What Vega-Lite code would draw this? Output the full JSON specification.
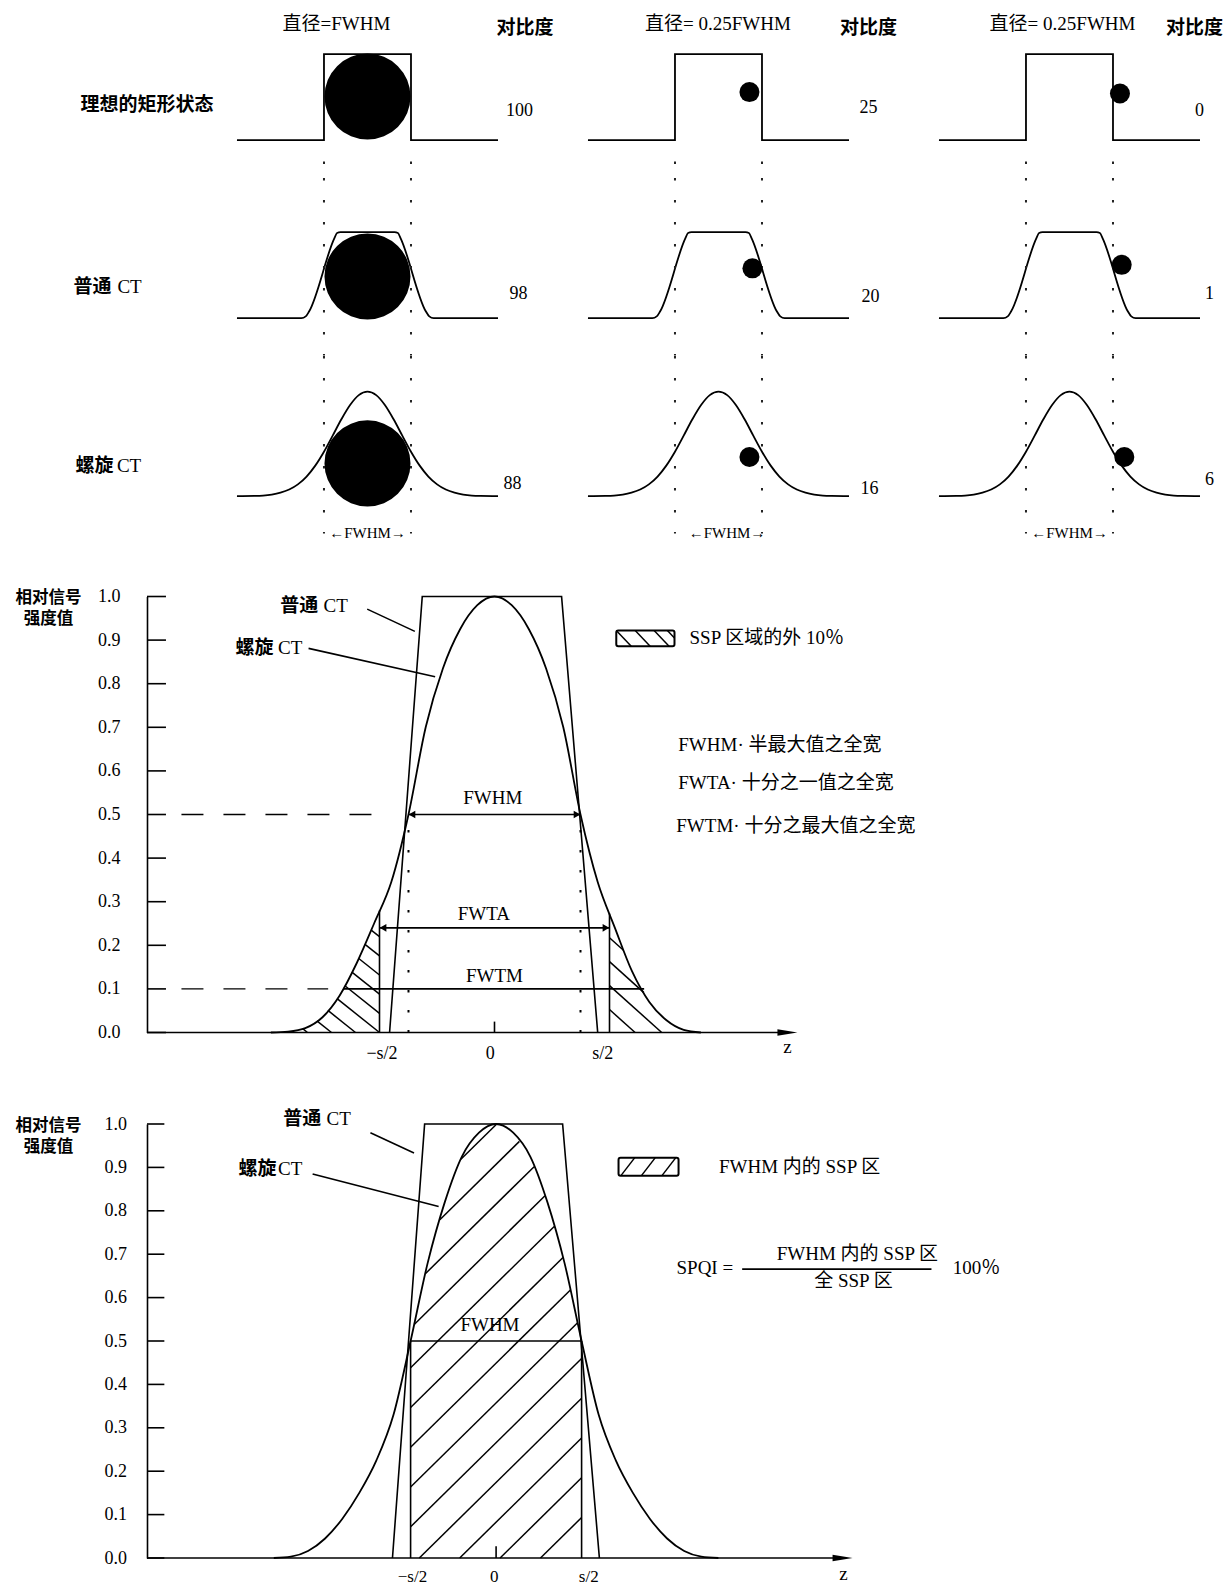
{
"$schema": "https://vega.github.io/schema/vega-lite/v6.json",
"background": "white",
"padding": {"left": 15, "top": 0, "right": 2, "bottom": 0},
"spacing": 46.5,
"config": {"view": {"stroke": null}, "axis": {"grid": false}},
"datasets": {
"top": [
{"c":1,"r":1,"k":"p","o":1,"z":-1.5,"v":0},{"c":1,"r":1,"k":"p","o":2,"z":-0.5,"v":0},{"c":1,"r":1,"k":"p","o":3,"z":-0.5,"v":1},{"c":1,"r":1,"k":"p","o":4,"z":0.5,"v":1},{"c":1,"r":1,"k":"p","o":5,"z":0.5,"v":0},{"c":1,"r":1,"k":"p","o":6,"z":1.5,"v":0},
{"c":2,"r":1,"k":"p","o":1,"z":-1.5,"v":0},{"c":2,"r":1,"k":"p","o":2,"z":-0.5,"v":0},{"c":2,"r":1,"k":"p","o":3,"z":-0.5,"v":1},{"c":2,"r":1,"k":"p","o":4,"z":0.5,"v":1},{"c":2,"r":1,"k":"p","o":5,"z":0.5,"v":0},{"c":2,"r":1,"k":"p","o":6,"z":1.5,"v":0},
{"c":3,"r":1,"k":"p","o":1,"z":-1.5,"v":0},{"c":3,"r":1,"k":"p","o":2,"z":-0.5,"v":0},{"c":3,"r":1,"k":"p","o":3,"z":-0.5,"v":1},{"c":3,"r":1,"k":"p","o":4,"z":0.5,"v":1},{"c":3,"r":1,"k":"p","o":5,"z":0.5,"v":0},{"c":3,"r":1,"k":"p","o":6,"z":1.5,"v":0},
{"c":1,"r":2,"k":"p","z":-1.5,"v":0},{"c":1,"r":2,"k":"p","z":-0.76,"v":0},{"c":1,"r":2,"k":"p","z":-0.71,"v":0.02},{"c":1,"r":2,"k":"p","z":-0.67,"v":0.08},{"c":1,"r":2,"k":"p","z":-0.38,"v":0.93},{"c":1,"r":2,"k":"p","z":-0.35,"v":0.99},{"c":1,"r":2,"k":"p","z":-0.31,"v":1},{"c":1,"r":2,"k":"p","z":0.31,"v":1},{"c":1,"r":2,"k":"p","z":0.35,"v":0.99},{"c":1,"r":2,"k":"p","z":0.38,"v":0.93},{"c":1,"r":2,"k":"p","z":0.67,"v":0.08},{"c":1,"r":2,"k":"p","z":0.71,"v":0.02},{"c":1,"r":2,"k":"p","z":0.76,"v":0},{"c":1,"r":2,"k":"p","z":1.5,"v":0},
{"c":2,"r":2,"k":"p","z":-1.5,"v":0},{"c":2,"r":2,"k":"p","z":-0.76,"v":0},{"c":2,"r":2,"k":"p","z":-0.71,"v":0.02},{"c":2,"r":2,"k":"p","z":-0.67,"v":0.08},{"c":2,"r":2,"k":"p","z":-0.38,"v":0.93},{"c":2,"r":2,"k":"p","z":-0.35,"v":0.99},{"c":2,"r":2,"k":"p","z":-0.31,"v":1},{"c":2,"r":2,"k":"p","z":0.31,"v":1},{"c":2,"r":2,"k":"p","z":0.35,"v":0.99},{"c":2,"r":2,"k":"p","z":0.38,"v":0.93},{"c":2,"r":2,"k":"p","z":0.67,"v":0.08},{"c":2,"r":2,"k":"p","z":0.71,"v":0.02},{"c":2,"r":2,"k":"p","z":0.76,"v":0},{"c":2,"r":2,"k":"p","z":1.5,"v":0},
{"c":3,"r":2,"k":"p","z":-1.5,"v":0},{"c":3,"r":2,"k":"p","z":-0.76,"v":0},{"c":3,"r":2,"k":"p","z":-0.71,"v":0.02},{"c":3,"r":2,"k":"p","z":-0.67,"v":0.08},{"c":3,"r":2,"k":"p","z":-0.38,"v":0.93},{"c":3,"r":2,"k":"p","z":-0.35,"v":0.99},{"c":3,"r":2,"k":"p","z":-0.31,"v":1},{"c":3,"r":2,"k":"p","z":0.31,"v":1},{"c":3,"r":2,"k":"p","z":0.35,"v":0.99},{"c":3,"r":2,"k":"p","z":0.38,"v":0.93},{"c":3,"r":2,"k":"p","z":0.67,"v":0.08},{"c":3,"r":2,"k":"p","z":0.71,"v":0.02},{"c":3,"r":2,"k":"p","z":0.76,"v":0},{"c":3,"r":2,"k":"p","z":1.5,"v":0},
{"c":1,"r":3,"k":"p","z":-1.5,"v":0},{"c":1,"r":3,"k":"p","z":-1.3,"v":0.002},{"c":1,"r":3,"k":"p","z":-1.2,"v":0.006},{"c":1,"r":3,"k":"p","z":-1.1,"v":0.018},{"c":1,"r":3,"k":"p","z":-1,"v":0.04},{"c":1,"r":3,"k":"p","z":-0.9,"v":0.076},{"c":1,"r":3,"k":"p","z":-0.8,"v":0.136},{"c":1,"r":3,"k":"p","z":-0.7,"v":0.227},{"c":1,"r":3,"k":"p","z":-0.6,"v":0.354},{"c":1,"r":3,"k":"p","z":-0.5,"v":0.516},{"c":1,"r":3,"k":"p","z":-0.4,"v":0.703},{"c":1,"r":3,"k":"p","z":-0.3,"v":0.893},{"c":1,"r":3,"k":"p","z":-0.2,"v":1.059},{"c":1,"r":3,"k":"p","z":-0.1,"v":1.174},{"c":1,"r":3,"k":"p","z":0,"v":1.215},{"c":1,"r":3,"k":"p","z":0.1,"v":1.174},{"c":1,"r":3,"k":"p","z":0.2,"v":1.059},{"c":1,"r":3,"k":"p","z":0.3,"v":0.893},{"c":1,"r":3,"k":"p","z":0.4,"v":0.703},{"c":1,"r":3,"k":"p","z":0.5,"v":0.516},{"c":1,"r":3,"k":"p","z":0.6,"v":0.354},{"c":1,"r":3,"k":"p","z":0.7,"v":0.227},{"c":1,"r":3,"k":"p","z":0.8,"v":0.136},{"c":1,"r":3,"k":"p","z":0.9,"v":0.076},{"c":1,"r":3,"k":"p","z":1,"v":0.04},{"c":1,"r":3,"k":"p","z":1.1,"v":0.018},{"c":1,"r":3,"k":"p","z":1.2,"v":0.006},{"c":1,"r":3,"k":"p","z":1.3,"v":0.002},{"c":1,"r":3,"k":"p","z":1.5,"v":0},
{"c":2,"r":3,"k":"p","z":-1.5,"v":0},{"c":2,"r":3,"k":"p","z":-1.3,"v":0.002},{"c":2,"r":3,"k":"p","z":-1.2,"v":0.006},{"c":2,"r":3,"k":"p","z":-1.1,"v":0.018},{"c":2,"r":3,"k":"p","z":-1,"v":0.04},{"c":2,"r":3,"k":"p","z":-0.9,"v":0.076},{"c":2,"r":3,"k":"p","z":-0.8,"v":0.136},{"c":2,"r":3,"k":"p","z":-0.7,"v":0.227},{"c":2,"r":3,"k":"p","z":-0.6,"v":0.354},{"c":2,"r":3,"k":"p","z":-0.5,"v":0.516},{"c":2,"r":3,"k":"p","z":-0.4,"v":0.703},{"c":2,"r":3,"k":"p","z":-0.3,"v":0.893},{"c":2,"r":3,"k":"p","z":-0.2,"v":1.059},{"c":2,"r":3,"k":"p","z":-0.1,"v":1.174},{"c":2,"r":3,"k":"p","z":0,"v":1.215},{"c":2,"r":3,"k":"p","z":0.1,"v":1.174},{"c":2,"r":3,"k":"p","z":0.2,"v":1.059},{"c":2,"r":3,"k":"p","z":0.3,"v":0.893},{"c":2,"r":3,"k":"p","z":0.4,"v":0.703},{"c":2,"r":3,"k":"p","z":0.5,"v":0.516},{"c":2,"r":3,"k":"p","z":0.6,"v":0.354},{"c":2,"r":3,"k":"p","z":0.7,"v":0.227},{"c":2,"r":3,"k":"p","z":0.8,"v":0.136},{"c":2,"r":3,"k":"p","z":0.9,"v":0.076},{"c":2,"r":3,"k":"p","z":1,"v":0.04},{"c":2,"r":3,"k":"p","z":1.1,"v":0.018},{"c":2,"r":3,"k":"p","z":1.2,"v":0.006},{"c":2,"r":3,"k":"p","z":1.3,"v":0.002},{"c":2,"r":3,"k":"p","z":1.5,"v":0},
{"c":3,"r":3,"k":"p","z":-1.5,"v":0},{"c":3,"r":3,"k":"p","z":-1.3,"v":0.002},{"c":3,"r":3,"k":"p","z":-1.2,"v":0.006},{"c":3,"r":3,"k":"p","z":-1.1,"v":0.018},{"c":3,"r":3,"k":"p","z":-1,"v":0.04},{"c":3,"r":3,"k":"p","z":-0.9,"v":0.076},{"c":3,"r":3,"k":"p","z":-0.8,"v":0.136},{"c":3,"r":3,"k":"p","z":-0.7,"v":0.227},{"c":3,"r":3,"k":"p","z":-0.6,"v":0.354},{"c":3,"r":3,"k":"p","z":-0.5,"v":0.516},{"c":3,"r":3,"k":"p","z":-0.4,"v":0.703},{"c":3,"r":3,"k":"p","z":-0.3,"v":0.893},{"c":3,"r":3,"k":"p","z":-0.2,"v":1.059},{"c":3,"r":3,"k":"p","z":-0.1,"v":1.174},{"c":3,"r":3,"k":"p","z":0,"v":1.215},{"c":3,"r":3,"k":"p","z":0.1,"v":1.174},{"c":3,"r":3,"k":"p","z":0.2,"v":1.059},{"c":3,"r":3,"k":"p","z":0.3,"v":0.893},{"c":3,"r":3,"k":"p","z":0.4,"v":0.703},{"c":3,"r":3,"k":"p","z":0.5,"v":0.516},{"c":3,"r":3,"k":"p","z":0.6,"v":0.354},{"c":3,"r":3,"k":"p","z":0.7,"v":0.227},{"c":3,"r":3,"k":"p","z":0.8,"v":0.136},{"c":3,"r":3,"k":"p","z":0.9,"v":0.076},{"c":3,"r":3,"k":"p","z":1,"v":0.04},{"c":3,"r":3,"k":"p","z":1.1,"v":0.018},{"c":3,"r":3,"k":"p","z":1.2,"v":0.006},{"c":3,"r":3,"k":"p","z":1.3,"v":0.002},{"c":3,"r":3,"k":"p","z":1.5,"v":0},
{"c":1,"r":1,"k":"d","z":-0.5,"v":-0.248,"v2":-0.4357},{"c":1,"r":1,"k":"d","z":0.5,"v":-0.248,"v2":-0.4357},
{"c":1,"r":2,"k":"d","z":-0.5,"v":1.63,"v2":-0.4357},{"c":1,"r":2,"k":"d","z":0.5,"v":1.63,"v2":-0.4357},
{"c":1,"r":3,"k":"d","z":-0.5,"v":1.63,"v2":-0.4357},{"c":1,"r":3,"k":"d","z":0.5,"v":1.63,"v2":-0.4357},
{"c":2,"r":1,"k":"d","z":-0.5,"v":-0.248,"v2":-0.4357},{"c":2,"r":1,"k":"d","z":0.5,"v":-0.248,"v2":-0.4357},
{"c":2,"r":2,"k":"d","z":-0.5,"v":1.63,"v2":-0.4357},{"c":2,"r":2,"k":"d","z":0.5,"v":1.63,"v2":-0.4357},
{"c":2,"r":3,"k":"d","z":-0.5,"v":1.63,"v2":-0.4357},{"c":2,"r":3,"k":"d","z":0.5,"v":1.63,"v2":-0.4357},
{"c":3,"r":1,"k":"d","z":-0.5,"v":-0.248,"v2":-0.4357},{"c":3,"r":1,"k":"d","z":0.5,"v":-0.248,"v2":-0.4357},
{"c":3,"r":2,"k":"d","z":-0.5,"v":1.63,"v2":-0.4357},{"c":3,"r":2,"k":"d","z":0.5,"v":1.63,"v2":-0.4357},
{"c":3,"r":3,"k":"d","z":-0.5,"v":1.63,"v2":-0.4357},{"c":3,"r":3,"k":"d","z":0.5,"v":1.63,"v2":-0.4357},
{"c":1,"r":1,"k":"b","z":0,"v":0.507},{"c":1,"r":2,"k":"b","z":0,"v":0.484},{"c":1,"r":3,"k":"b","z":0,"v":0.38},
{"c":2,"r":1,"k":"s","z":0.356,"v":0.559},{"c":2,"r":2,"k":"s","z":0.39,"v":0.579},{"c":2,"r":3,"k":"s","z":0.356,"v":0.455},
{"c":3,"r":1,"k":"s","z":0.58,"v":0.543},{"c":3,"r":2,"k":"s","z":0.6,"v":0.62},{"c":3,"r":3,"k":"s","z":0.63,"v":0.455},
{"c":1,"r":1,"k":"hd","z":-0.356,"v":1.351,"t":"直径=FWHM"},
{"c":2,"r":1,"k":"hd","z":-0.006,"v":1.351,"t":"直径= 0.25FWHM"},
{"c":3,"r":1,"k":"hd","z":-0.08,"v":1.351,"t":"直径= 0.25FWHM"},
{"c":1,"r":1,"k":"cb","z":1.81,"v":1.31,"t":"对比度"},
{"c":2,"r":1,"k":"cb","z":1.724,"v":1.31,"t":"对比度"},
{"c":3,"r":1,"k":"cb","z":1.437,"v":1.31,"t":"对比度"},
{"c":1,"r":1,"k":"rl","z":-3.299,"v":0.412,"t":"理想的矩形状态"},
{"c":1,"r":2,"k":"rl","z":-3.379,"v":0.367,"t":"普通"},
{"c":1,"r":3,"k":"rl","z":-3.356,"v":0.348,"t":"螺旋"},
{"c":1,"r":2,"k":"ct","z":-2.874,"v":0.367,"t":"CT"},
{"c":1,"r":3,"k":"ct","z":-2.88,"v":0.348,"t":"CT"},
{"c":1,"r":1,"k":"n","z":1.747,"v":0.34,"t":"100"},
{"c":1,"r":2,"k":"n","z":1.736,"v":0.28,"t":"98"},
{"c":1,"r":3,"k":"n","z":1.667,"v":0.136,"t":"88"},
{"c":2,"r":1,"k":"n","z":1.724,"v":0.379,"t":"25"},
{"c":2,"r":2,"k":"n","z":1.747,"v":0.248,"t":"20"},
{"c":2,"r":3,"k":"n","z":1.736,"v":0.087,"t":"16"},
{"c":3,"r":1,"k":"n","z":1.494,"v":0.34,"t":"0"},
{"c":3,"r":2,"k":"n","z":1.609,"v":0.28,"t":"1"},
{"c":3,"r":3,"k":"n","z":1.609,"v":0.187,"t":"6"},
{"c":1,"r":3,"k":"fw","z":0,"v":-0.424,"t":"←FWHM→"},
{"c":2,"r":3,"k":"fw","z":0.098,"v":-0.424,"t":"←FWHM→"},
{"c":3,"r":3,"k":"fw","z":0,"v":-0.424,"t":"←FWHM→"}
],
"mG": [{"z":-1.3,"v":0},{"z":-1.2,"v":0.002},{"z":-1.1,"v":0.01},{"z":-1.0,"v":0.035},{"z":-0.9,"v":0.085},{"z":-0.8,"v":0.16},{"z":-0.7,"v":0.25},{"z":-0.6,"v":0.345},{"z":-0.5,"v":0.5},{"z":-0.4,"v":0.7},{"z":-0.3,"v":0.835},{"z":-0.2,"v":0.925},{"z":-0.1,"v":0.98},{"z":0,"v":1},{"z":0.1,"v":0.98},{"z":0.2,"v":0.925},{"z":0.3,"v":0.835},{"z":0.4,"v":0.7},{"z":0.5,"v":0.5},{"z":0.6,"v":0.345},{"z":0.7,"v":0.24},{"z":0.8,"v":0.14},{"z":0.9,"v":0.07},{"z":1.0,"v":0.028},{"z":1.1,"v":0.006},{"z":1.2,"v":0}],
"mT": [{"z":-0.61,"v":0},{"z":-0.42,"v":1},{"z":0.39,"v":1},{"z":0.6,"v":0}],
"mS": [
{"z1":-2.0203,"v1":0,"z2":1.7,"v2":0},
{"z1":-0.6686,"v1":0,"z2":-0.6686,"v2":0.2798},
{"z1":0.6686,"v1":0,"z2":0.6686,"v2":0.273},
{"z1":-0.5,"v1":0.5,"z2":0.5,"v2":0.5},
{"z1":-0.6686,"v1":0.24,"z2":0.6686,"v2":0.24},
{"z1":-0.88,"v1":0.1,"z2":0.87,"v2":0.1},
{"z1":-0.74,"v1":0.971,"z2":-0.463,"v2":0.92},
{"z1":-1.081,"v1":0.881,"z2":-0.345,"v2":0.816},
{"z1":0,"v1":0,"z2":0,"v2":0.025},
{"z1":-2.0203,"v1":0,"z2":-1.91,"v2":0},{"z1":-2.0203,"v1":0.1,"z2":-1.91,"v2":0.1},{"z1":-2.0203,"v1":0.2,"z2":-1.91,"v2":0.2},{"z1":-2.0203,"v1":0.3,"z2":-1.91,"v2":0.3},{"z1":-2.0203,"v1":0.4,"z2":-1.91,"v2":0.4},{"z1":-2.0203,"v1":0.5,"z2":-1.91,"v2":0.5},{"z1":-2.0203,"v1":0.6,"z2":-1.91,"v2":0.6},{"z1":-2.0203,"v1":0.7,"z2":-1.91,"v2":0.7},{"z1":-2.0203,"v1":0.8,"z2":-1.91,"v2":0.8},{"z1":-2.0203,"v1":0.9,"z2":-1.91,"v2":0.9},{"z1":-2.0203,"v1":1,"z2":-1.91,"v2":1}
],
"mH": [
{"z1":-0.6686,"v1":0.2197,"z2":-0.7169,"v2":0.2348},
{"z1":-0.6686,"v1":0.1757,"z2":-0.7529,"v2":0.2023},
{"z1":-0.6686,"v1":0.1318,"z2":-0.789,"v2":0.1698},
{"z1":-0.6686,"v1":0.0879,"z2":-0.8291,"v2":0.1384},
{"z1":-0.6686,"v1":0.0439,"z2":-0.8698,"v2":0.1073},
{"z1":-0.6686,"v1":0,"z2":-0.9151,"v2":0.0776},
{"z1":-0.8081,"v1":0,"z2":-0.9686,"v2":0.0506},
{"z1":-0.9477,"v1":0,"z2":-1.0326,"v2":0.0268},
{"z1":-1.0872,"v1":0,"z2":-1.1151,"v2":0.0088},
{"z1":0.6686,"v1":0.2174,"z2":0.7512,"v2":0.1881},
{"z1":0.6686,"v1":0.1625,"z2":0.8686,"v2":0.0915},
{"z1":0.6686,"v1":0.1076,"z2":0.9721,"v2":0},
{"z1":0.6686,"v1":0.0526,"z2":0.8174,"v2":0},
{"z1":0.708,"v1":0.922,"z2":0.795,"v2":0.886},
{"z1":0.818,"v1":0.922,"z2":0.905,"v2":0.886},
{"z1":0.928,"v1":0.922,"z2":1.015,"v2":0.886},
{"z1":1.005,"v1":0.922,"z2":1.0465,"v2":0.905}
],
"mDa": [{"z1":-1.82,"v1":0.5,"z2":-0.71,"v2":0.5},{"z1":-1.82,"v1":0.1,"z2":-0.967,"v2":0.1}],
"mDo": [{"z1":-0.5,"v1":0,"z2":-0.5,"v2":0.5},{"z1":0.5,"v1":0,"z2":0.5,"v2":0.5}],
"mA": [{"z":-0.48,"v":0.5,"d":"L"},{"z":0.48,"v":0.5,"d":"R"},{"z":-0.648,"v":0.24,"d":"L"},{"z":0.648,"v":0.24,"d":"R"}],
"mZ": [{"z":1.703,"v":0}],
"mR": [{"z1":0.708,"z2":1.0465,"v1":0.886,"v2":0.922}],
"mTx": [
{"k":"cb","t":"普通","z":-1.246,"v":0.978},
{"k":"cb","t":"螺旋","z":-1.506,"v":0.883},
{"k":"lab","t":"CT","z":-0.994,"v":0.978},
{"k":"lab","t":"CT","z":-1.258,"v":0.883},
{"k":"lab","t":"SSP 区域的外 10％","z":1.1337,"v":0.904},
{"k":"lab","t":"FWHM· 半最大值之全宽","z":1.0686,"v":0.66},
{"k":"lab","t":"FWTA· 十分之一值之全宽","z":1.0686,"v":0.572},
{"k":"lab","t":"FWTM· 十分之最大值之全宽","z":1.057,"v":0.474},
{"k":"c","t":"FWHM","z":-0.01,"v":0.537},
{"k":"c","t":"FWTA","z":-0.062,"v":0.272},
{"k":"c","t":"FWTM","z":0,"v":0.13},
{"k":"c","t":"z","z":1.703,"v":-0.033}
],
"bG": [{"z":-1.3,"v":0},{"z":-1.2,"v":0.003},{"z":-1.1,"v":0.016},{"z":-1.0,"v":0.045},{"z":-0.9,"v":0.09},{"z":-0.8,"v":0.15},{"z":-0.7,"v":0.225},{"z":-0.6,"v":0.33},{"z":-0.5,"v":0.5},{"z":-0.4,"v":0.68},{"z":-0.3,"v":0.82},{"z":-0.2,"v":0.925},{"z":-0.1,"v":0.98},{"z":0,"v":1},{"z":0.1,"v":0.98},{"z":0.2,"v":0.925},{"z":0.3,"v":0.82},{"z":0.4,"v":0.68},{"z":0.5,"v":0.5},{"z":0.6,"v":0.33},{"z":0.7,"v":0.225},{"z":0.8,"v":0.15},{"z":0.9,"v":0.09},{"z":1.0,"v":0.045},{"z":1.1,"v":0.016},{"z":1.2,"v":0.003},{"z":1.3,"v":0}],
"bT": [{"z":-0.606,"v":0},{"z":-0.418,"v":1},{"z":0.389,"v":1},{"z":0.604,"v":0}],
"bS": [
{"z1":-2.0415,"v1":0,"z2":2.03,"v2":0},
{"z1":-0.5,"v1":0,"z2":-0.5,"v2":0.5},
{"z1":0.5,"v1":0,"z2":0.5,"v2":0.5},
{"z1":-0.5,"v1":0.5,"z2":0.5,"v2":0.5},
{"z1":-0.735,"v1":0.98,"z2":-0.48,"v2":0.933},
{"z1":-1.073,"v1":0.885,"z2":-0.336,"v2":0.81},
{"z1":0,"v1":0,"z2":0,"v2":0.027},
{"z1":1.439,"v1":0.6655,"z2":2.546,"v2":0.6655},
{"z1":-2.0415,"v1":0,"z2":-1.94,"v2":0},{"z1":-2.0415,"v1":0.1,"z2":-1.94,"v2":0.1},{"z1":-2.0415,"v1":0.2,"z2":-1.94,"v2":0.2},{"z1":-2.0415,"v1":0.3,"z2":-1.94,"v2":0.3},{"z1":-2.0415,"v1":0.4,"z2":-1.94,"v2":0.4},{"z1":-2.0415,"v1":0.5,"z2":-1.94,"v2":0.5},{"z1":-2.0415,"v1":0.6,"z2":-1.94,"v2":0.6},{"z1":-2.0415,"v1":0.7,"z2":-1.94,"v2":0.7},{"z1":-2.0415,"v1":0.8,"z2":-1.94,"v2":0.8},{"z1":-2.0415,"v1":0.9,"z2":-1.94,"v2":0.9},{"z1":-2.0415,"v1":1,"z2":-1.94,"v2":1}
],
"bH": [
{"z1":-0.2058,"v1":0.9188,"z2":0.0023,"v2":0.9995},
{"z1":-0.3289,"v1":0.7795,"z2":0.1363,"v2":0.9599},
{"z1":-0.414,"v1":0.6549,"z2":0.2222,"v2":0.9016},
{"z1":-0.4789,"v1":0.5381,"z2":0.286,"v2":0.8347},
{"z1":-0.5,"v1":0.4383,"z2":0.3398,"v2":0.7639},
{"z1":-0.5,"v1":0.3467,"z2":0.3912,"v2":0.6923},
{"z1":-0.5,"v1":0.2551,"z2":0.4345,"v2":0.6175},
{"z1":-0.5,"v1":0.1635,"z2":0.4766,"v2":0.5422},
{"z1":-0.5,"v1":0.0719,"z2":0.5,"v2":0.4596},
{"z1":-0.4491,"v1":0,"z2":0.5,"v2":0.368},
{"z1":-0.2129,"v1":0,"z2":0.5,"v2":0.2764},
{"z1":0.0234,"v1":0,"z2":0.5,"v2":0.1848},
{"z1":0.2596,"v1":0,"z2":0.5,"v2":0.0932},
{"z1":0.73,"v1":0.881,"z2":0.81,"v2":0.922},
{"z1":0.85,"v1":0.881,"z2":0.93,"v2":0.922},
{"z1":0.97,"v1":0.881,"z2":1.05,"v2":0.922}
],
"bZ": [{"z":2.026,"v":0}],
"bR": [{"z1":0.716,"z2":1.067,"v1":0.881,"v2":0.922}],
"bTx": [
{"k":"cb","t":"普通","z":-1.245,"v":1.0126},
{"k":"cb","t":"螺旋","z":-1.506,"v":0.897},
{"k":"lab","t":"CT","z":-0.992,"v":1.0126},
{"k":"lab","t":"CT","z":-1.275,"v":0.897},
{"k":"lab","t":"FWHM 内的 SSP 区","z":1.303,"v":0.901},
{"k":"lab","t":"SPQI =","z":1.055,"v":0.6678},
{"k":"lab","t":"100％","z":2.671,"v":0.6678},
{"k":"c","t":"FWHM","z":-0.036,"v":0.538},
{"k":"c","t":"FWHM 内的 SSP 区","z":2.113,"v":0.6996},
{"k":"c","t":"全 SSP 区","z":2.09,"v":0.6377},
{"k":"c","t":"z","z":2.032,"v":-0.036}
]
},
"vconcat": [
{
"data": {"name": "top"},
"facet": {"row": {"field": "r", "type": "ordinal", "header": null}, "column": {"field": "c", "type": "ordinal", "header": null}},
"spacing": {"row": 20.95, "column": 0},
"bounds": "flush",
"spec": {
"width": 351, "height": 156.7,
"encoding": {
"x": {"field": "z", "type": "quantitative", "scale": {"domain": [-2.534, 1.5], "nice": false, "zero": false}, "axis": null},
"y": {"field": "v", "type": "quantitative", "scale": {"domain": [-0.1921, 1.63], "nice": false, "zero": false}, "axis": null}
},
"layer": [
{"transform": [{"filter": "datum.k == 'p' && datum.r == 1"}], "mark": {"type": "line", "color": "black", "strokeWidth": 1.8}, "encoding": {"order": {"field": "o", "type": "quantitative"}}},
{"transform": [{"filter": "datum.k == 'p' && datum.r > 1"}], "mark": {"type": "line", "interpolate": "monotone", "color": "black", "strokeWidth": 1.8}},
{"transform": [{"filter": "datum.k == 'd'"}], "mark": {"type": "rule", "color": "#222222", "strokeWidth": 2, "strokeDash": [2.5, 19.5]}, "encoding": {"y2": {"field": "v2"}}},
{"transform": [{"filter": "datum.k == 'b'"}], "mark": {"type": "point", "shape": "circle", "filled": true, "color": "black", "opacity": 1, "size": 7400}},
{"transform": [{"filter": "datum.k == 's'"}], "mark": {"type": "point", "shape": "circle", "filled": true, "color": "black", "opacity": 1, "size": 400}},
{"transform": [{"filter": "datum.k == 'hd'"}], "mark": {"type": "text", "font": "'Liberation Serif', 'Noto Sans CJK SC', serif", "fontSize": 19, "align": "center", "baseline": "middle", "color": "black"}, "encoding": {"text": {"field": "t"}}},
{"transform": [{"filter": "datum.k == 'cb'"}], "mark": {"type": "text", "font": "Noto Sans CJK SC", "fontWeight": "bold", "fontSize": 19, "align": "center", "baseline": "middle", "color": "black"}, "encoding": {"text": {"field": "t"}}},
{"transform": [{"filter": "datum.k == 'rl'"}], "mark": {"type": "text", "font": "Noto Sans CJK SC", "fontWeight": "bold", "fontSize": 19, "align": "left", "baseline": "middle", "color": "black"}, "encoding": {"text": {"field": "t"}}},
{"transform": [{"filter": "datum.k == 'ct'"}], "mark": {"type": "text", "font": "'Liberation Serif', serif", "fontSize": 19, "align": "left", "baseline": "middle", "color": "black"}, "encoding": {"text": {"field": "t"}}},
{"transform": [{"filter": "datum.k == 'n'"}], "mark": {"type": "text", "font": "'Liberation Serif', serif", "fontSize": 18, "align": "center", "baseline": "middle", "color": "black"}, "encoding": {"text": {"field": "t"}}},
{"transform": [{"filter": "datum.k == 'fw'"}], "mark": {"type": "text", "font": "'Liberation Serif', 'DejaVu Sans', serif", "fontSize": 15, "align": "center", "baseline": "middle", "color": "black"}, "encoding": {"text": {"field": "t"}}}
]
}
},
{
"width": 952.5, "height": 436,
"layer": [
{"data": {"name": "mG"}, "mark": {"type": "line", "interpolate": "monotone", "color": "black", "strokeWidth": 1.8},
"encoding": {
"x": {"field": "z", "type": "quantitative", "scale": {"domain": [-2.0203, 3.5174], "nice": false, "zero": false},
"axis": {"values": [-0.657, -0.027, 0.627], "labelExpr": "datum.value < -0.2 ? '−s/2' : (datum.value > 0.2 ? 's/2' : '0')", "domain": false, "ticks": false, "tickSize": 0, "labelPadding": 12, "labelFontSize": 18, "labelFont": "Liberation Serif", "labelColor": "black", "title": null, "grid": false, "labelFlush": false, "labelOverlap": false}},
"y": {"field": "v", "type": "quantitative", "scale": {"domain": [0, 1], "nice": false, "zero": false},
"axis": {"values": [0,0.1,0.2,0.3,0.4,0.5,0.6,0.7,0.8,0.9,1], "format": ".1f", "domain": true, "domainColor": "black", "domainWidth": 1.6, "ticks": false, "tickSize": 0, "labelPadding": 27, "labelFontSize": 18, "labelFont": "Liberation Serif", "labelColor": "black", "grid": false, "labelFlush": false, "labelOverlap": false,
"title": ["相对信号", "强度值"], "titleAngle": 0, "titleAlign": "center", "titleBaseline": "top", "titleX": -99, "titleY": -7, "titleFont": "Noto Sans CJK SC", "titleFontWeight": "bold", "titleFontSize": 16.5, "titleLineHeight": 21, "titleColor": "black"}}
}},
{"data": {"name": "mT"}, "mark": {"type": "line", "color": "black", "strokeWidth": 1.6}, "encoding": {"x": {"field": "z", "type": "quantitative"}, "y": {"field": "v", "type": "quantitative"}}},
{"data": {"name": "mS"}, "mark": {"type": "rule", "color": "black", "strokeWidth": 1.6}, "encoding": {"x": {"field": "z1", "type": "quantitative"}, "y": {"field": "v1", "type": "quantitative"}, "x2": {"field": "z2"}, "y2": {"field": "v2"}}},
{"data": {"name": "mR"}, "mark": {"type": "rect", "fill": "white", "stroke": "black", "strokeWidth": 2, "cornerRadius": 2}, "encoding": {"x": {"field": "z1", "type": "quantitative"}, "x2": {"field": "z2"}, "y": {"field": "v1", "type": "quantitative"}, "y2": {"field": "v2"}}},
{"data": {"name": "mH"}, "mark": {"type": "rule", "color": "black", "strokeWidth": 1.5}, "encoding": {"x": {"field": "z1", "type": "quantitative"}, "y": {"field": "v1", "type": "quantitative"}, "x2": {"field": "z2"}, "y2": {"field": "v2"}}},
{"data": {"name": "mDa"}, "mark": {"type": "rule", "color": "black", "strokeWidth": 1.4, "strokeDash": [22, 20]}, "encoding": {"x": {"field": "z1", "type": "quantitative"}, "y": {"field": "v1", "type": "quantitative"}, "x2": {"field": "z2"}, "y2": {"field": "v2"}}},
{"data": {"name": "mDo"}, "mark": {"type": "rule", "color": "black", "strokeWidth": 2, "strokeDash": [2.5, 17.5]}, "encoding": {"x": {"field": "z1", "type": "quantitative"}, "y": {"field": "v1", "type": "quantitative"}, "x2": {"field": "z2"}, "y2": {"field": "v2"}}},
{"data": {"name": "mA"}, "transform": [{"filter": "datum.d == 'L'"}], "mark": {"type": "point", "shape": "triangle-left", "filled": true, "color": "black", "opacity": 1, "size": 60}, "encoding": {"x": {"field": "z", "type": "quantitative"}, "y": {"field": "v", "type": "quantitative"}}},
{"data": {"name": "mA"}, "transform": [{"filter": "datum.d == 'R'"}], "mark": {"type": "point", "shape": "triangle-right", "filled": true, "color": "black", "opacity": 1, "size": 60}, "encoding": {"x": {"field": "z", "type": "quantitative"}, "y": {"field": "v", "type": "quantitative"}}},
{"data": {"name": "mZ"}, "mark": {"type": "point", "shape": "M-1,-0.32L1,0L-1,0.32Z", "filled": true, "color": "black", "opacity": 1, "size": 400}, "encoding": {"x": {"field": "z", "type": "quantitative"}, "y": {"field": "v", "type": "quantitative"}}},
{"data": {"name": "mTx"}, "transform": [{"filter": "datum.k == 'cb'"}], "mark": {"type": "text", "font": "Noto Sans CJK SC", "fontWeight": "bold", "fontSize": 19, "align": "left", "baseline": "middle", "color": "black"}, "encoding": {"x": {"field": "z", "type": "quantitative"}, "y": {"field": "v", "type": "quantitative"}, "text": {"field": "t"}}},
{"data": {"name": "mTx"}, "transform": [{"filter": "datum.k == 'lab'"}], "mark": {"type": "text", "font": "'Liberation Serif', 'Noto Sans CJK SC', serif", "fontSize": 19, "align": "left", "baseline": "middle", "color": "black"}, "encoding": {"x": {"field": "z", "type": "quantitative"}, "y": {"field": "v", "type": "quantitative"}, "text": {"field": "t"}}},
{"data": {"name": "mTx"}, "transform": [{"filter": "datum.k == 'c'"}], "mark": {"type": "text", "font": "'Liberation Serif', 'Noto Sans CJK SC', serif", "fontSize": 19, "align": "center", "baseline": "middle", "color": "black"}, "encoding": {"x": {"field": "z", "type": "quantitative"}, "y": {"field": "v", "type": "quantitative"}, "text": {"field": "t"}}}
]
},
{
"width": 952.5, "height": 434,
"layer": [
{"data": {"name": "bG"}, "mark": {"type": "line", "interpolate": "monotone", "color": "black", "strokeWidth": 1.8},
"encoding": {
"x": {"field": "z", "type": "quantitative", "scale": {"domain": [-2.0415, 3.5287], "nice": false, "zero": false},
"axis": {"values": [-0.492, -0.013, 0.539], "labelExpr": "datum.value < -0.2 ? '−s/2' : (datum.value > 0.2 ? 's/2' : '0')", "domain": false, "ticks": false, "tickSize": 0, "labelPadding": 10, "labelFontSize": 17, "labelFont": "Liberation Serif", "labelColor": "black", "title": null, "grid": false, "labelFlush": false, "labelOverlap": false}},
"y": {"field": "v", "type": "quantitative", "scale": {"domain": [0, 1], "nice": false, "zero": false},
"axis": {"values": [0,0.1,0.2,0.3,0.4,0.5,0.6,0.7,0.8,0.9,1], "format": ".1f", "domain": true, "domainColor": "black", "domainWidth": 1.6, "ticks": false, "tickSize": 0, "labelPadding": 20.5, "labelFontSize": 18, "labelFont": "Liberation Serif", "labelColor": "black", "grid": false, "labelFlush": false, "labelOverlap": false,
"title": ["相对信号", "强度值"], "titleAngle": 0, "titleAlign": "center", "titleBaseline": "top", "titleX": -99, "titleY": -7, "titleFont": "Noto Sans CJK SC", "titleFontWeight": "bold", "titleFontSize": 16.5, "titleLineHeight": 21, "titleColor": "black"}}
}},
{"data": {"name": "bT"}, "mark": {"type": "line", "color": "black", "strokeWidth": 1.6}, "encoding": {"x": {"field": "z", "type": "quantitative"}, "y": {"field": "v", "type": "quantitative"}}},
{"data": {"name": "bS"}, "mark": {"type": "rule", "color": "black", "strokeWidth": 1.6}, "encoding": {"x": {"field": "z1", "type": "quantitative"}, "y": {"field": "v1", "type": "quantitative"}, "x2": {"field": "z2"}, "y2": {"field": "v2"}}},
{"data": {"name": "bR"}, "mark": {"type": "rect", "fill": "white", "stroke": "black", "strokeWidth": 2, "cornerRadius": 2}, "encoding": {"x": {"field": "z1", "type": "quantitative"}, "x2": {"field": "z2"}, "y": {"field": "v1", "type": "quantitative"}, "y2": {"field": "v2"}}},
{"data": {"name": "bH"}, "mark": {"type": "rule", "color": "black", "strokeWidth": 1.5}, "encoding": {"x": {"field": "z1", "type": "quantitative"}, "y": {"field": "v1", "type": "quantitative"}, "x2": {"field": "z2"}, "y2": {"field": "v2"}}},
{"data": {"name": "bZ"}, "mark": {"type": "point", "shape": "M-1,-0.32L1,0L-1,0.32Z", "filled": true, "color": "black", "opacity": 1, "size": 400}, "encoding": {"x": {"field": "z", "type": "quantitative"}, "y": {"field": "v", "type": "quantitative"}}},
{"data": {"name": "bTx"}, "transform": [{"filter": "datum.k == 'cb'"}], "mark": {"type": "text", "font": "Noto Sans CJK SC", "fontWeight": "bold", "fontSize": 19, "align": "left", "baseline": "middle", "color": "black"}, "encoding": {"x": {"field": "z", "type": "quantitative"}, "y": {"field": "v", "type": "quantitative"}, "text": {"field": "t"}}},
{"data": {"name": "bTx"}, "transform": [{"filter": "datum.k == 'lab'"}], "mark": {"type": "text", "font": "'Liberation Serif', 'Noto Sans CJK SC', serif", "fontSize": 19, "align": "left", "baseline": "middle", "color": "black"}, "encoding": {"x": {"field": "z", "type": "quantitative"}, "y": {"field": "v", "type": "quantitative"}, "text": {"field": "t"}}},
{"data": {"name": "bTx"}, "transform": [{"filter": "datum.k == 'c'"}], "mark": {"type": "text", "font": "'Liberation Serif', 'Noto Sans CJK SC', serif", "fontSize": 19, "align": "center", "baseline": "middle", "color": "black"}, "encoding": {"x": {"field": "z", "type": "quantitative"}, "y": {"field": "v", "type": "quantitative"}, "text": {"field": "t"}}}
]
}
]
}
